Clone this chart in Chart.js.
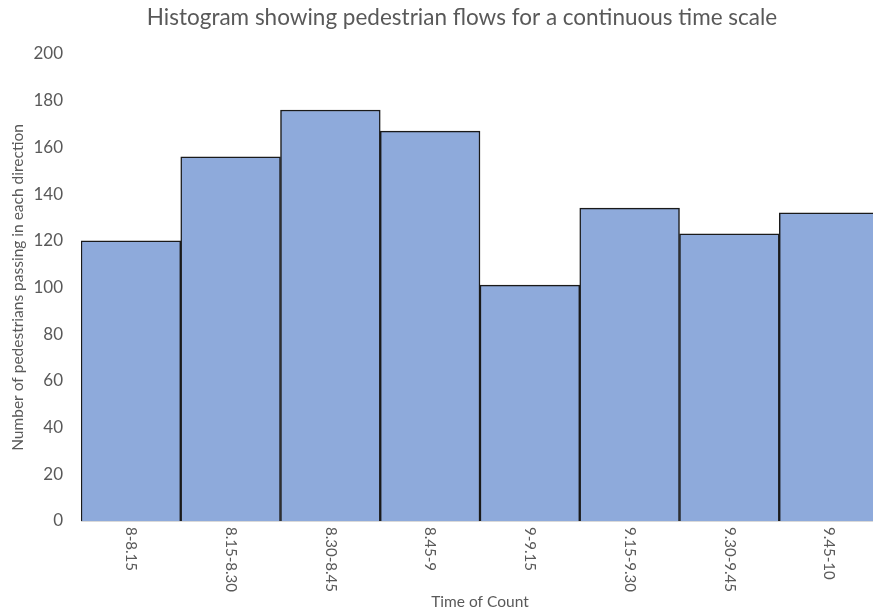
<!DOCTYPE html>
<html>
<head>
<meta charset="utf-8">
<script src="https://cdn.jsdelivr.net/npm/chart.js@4/dist/chart.umd.min.js"></script>
<style>
  html, body { margin: 0; padding: 0; background: #fff; overflow: hidden; }
  #wrap { width: 924px; height: 614px; }
</style>
</head>
<body>
<div id="wrap"><canvas id="chart" width="924" height="614"></canvas></div>
<script>
// Quarter-hour counting intervals
const timeSlots = ['8-8.15', '8.15-8.30', '8.30-8.45', '8.45-9', '9-9.15', '9.15-9.30', '9.30-9.45', '9.45-10'];
// Pedestrians counted in each interval
const pedestrianCounts = [120, 156, 176, 167, 101, 134, 123, 132];
// Y axis range
const yTicks = [0, 20, 40, 60, 80, 100, 120, 140, 160, 180, 200];

const FONT = 'Lato, "Open Sans", sans-serif';
const GREY = '#595959';

// Category labels written top-to-bottom (rotated clockwise) under each bar
const clockwiseLabels = {
  id: 'clockwiseLabels',
  afterDraw(chart) {
    const xs = chart.scales.x;
    const ctx = chart.ctx;
    ctx.save();
    ctx.font = '15px ' + FONT;
    ctx.fillStyle = GREY;
    ctx.textAlign = 'left';
    ctx.textBaseline = 'middle';
    timeSlots.forEach((lab, i) => {
      const x = xs.getPixelForTick(i);
      ctx.save();
      ctx.translate(x, xs.top + 6);
      ctx.rotate(Math.PI / 2);
      ctx.fillText(lab, 0, 0);
      ctx.restore();
    });
    ctx.restore();
  }
};

new Chart(document.getElementById('chart'), {
  type: 'bar',
  data: {
    labels: timeSlots,
    datasets: [{
      data: pedestrianCounts,
      backgroundColor: '#8EAADB',
      borderColor: '#1a1a1a',
      borderWidth: 1.5,
      borderSkipped: 'bottom',
      barPercentage: 1.0,
      categoryPercentage: 1.0
    }]
  },
  options: {
    responsive: false,
    animation: false,
    layout: { padding: 0 },
    plugins: {
      legend: { display: false },
      tooltip: { enabled: false },
      title: {
        display: true,
        text: 'Histogram showing pedestrian flows for a continuous time scale',
        color: GREY,
        font: { family: FONT, size: 22.5, weight: 'normal' },
        padding: { top: 4, bottom: 23 }
      }
    },
    scales: {
      x: {
        grid: { display: false, drawTicks: false },
        border: { display: true, color: '#d9d9d9', width: 1 },
        ticks: {
          color: 'rgba(0,0,0,0)',
          minRotation: 90,
          maxRotation: 90,
          font: { family: FONT, size: 15 }
        },
        title: {
          display: true,
          text: 'Time of Count',
          color: GREY,
          font: { family: FONT, size: 15.5 },
          padding: { top: 4, bottom: 3 }
        },
        afterFit(s) { s.height = 93; }
      },
      y: {
        min: 0,
        max: 200,
        afterBuildTicks(s) { s.ticks = yTicks.map(v => ({ value: v })); },
        grid: { display: false, drawTicks: false },
        border: { display: false },
        ticks: {
          color: GREY,
          padding: 18,
          font: { family: FONT, size: 17 }
        },
        title: {
          display: true,
          text: 'Number of pedestrians passing in each direction',
          color: GREY,
          font: { family: FONT, size: 15.5 },
          padding: { top: 9, bottom: 4 }
        },
        afterFit(s) { s.width = 81; }
      },
      // empty right-hand margin axis
      yRight: {
        position: 'right',
        min: 0,
        max: 200,
        grid: { display: false, drawTicks: false },
        border: { display: false },
        ticks: { display: false },
        afterFit(s) { s.width = 45; }
      }
    }
  },
  plugins: [clockwiseLabels]
});
</script>
</body>
</html>
